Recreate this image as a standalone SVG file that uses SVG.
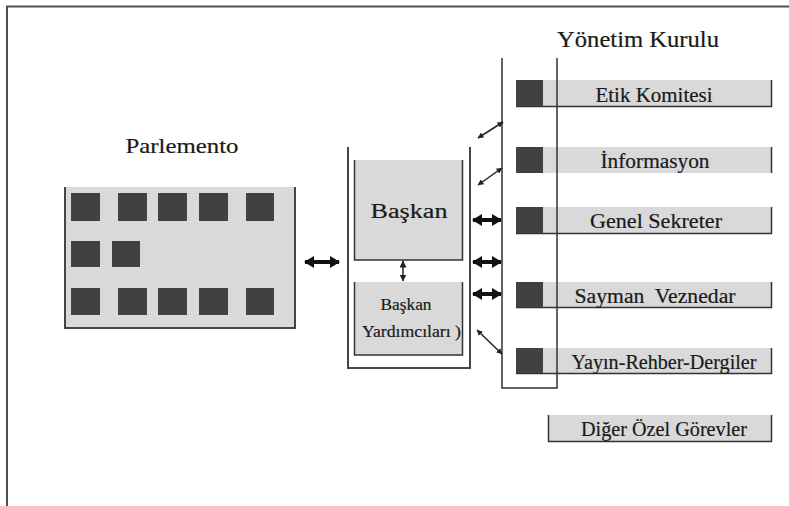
<svg xmlns="http://www.w3.org/2000/svg" width="789" height="506" viewBox="0 0 789 506" font-family="'Liberation Serif', 'Times New Roman', serif">
<defs>
<style>
text{font-family:'Liberation Serif','Times New Roman',serif;fill:#1a1a1a;stroke:#1a1a1a;stroke-width:0.2;}
.panel{fill:#d9d9d9;}
.edge{fill:none;stroke:#444;stroke-width:2;}
.sq{fill:#414141;}
.line{fill:none;stroke:#333;stroke-width:1.5;}
.thick{stroke:#111;stroke-width:4;fill:none;marker-start:url(#hb);marker-end:url(#hb);}
.thin{stroke:#222;stroke-width:1.5;fill:none;marker-start:url(#hs);marker-end:url(#hs);}
.vert{stroke:#222;stroke-width:1.5;fill:none;marker-start:url(#hm);marker-end:url(#hm);}
.bar{font-size:20px;}
</style>
<marker id="hb" markerUnits="userSpaceOnUse" viewBox="0 0 10 12" refX="9" refY="6" markerWidth="10" markerHeight="12" orient="auto-start-reverse"><path d="M0,0 L10,6 L0,12 z" fill="#111"/></marker>
<marker id="hs" markerUnits="userSpaceOnUse" viewBox="0 0 6 6" refX="5.5" refY="3" markerWidth="6" markerHeight="6" orient="auto-start-reverse"><path d="M0,0 L6,3 L0,6 z" fill="#222"/></marker>
<marker id="hm" markerUnits="userSpaceOnUse" viewBox="0 0 7 7" refX="6.5" refY="3.5" markerWidth="7" markerHeight="7" orient="auto-start-reverse"><path d="M0,0 L7,3.5 L0,7 z" fill="#222"/></marker>
</defs>
<rect width="789" height="506" fill="#fff"/>
<path d="M7,506 V6.5 H789" fill="none" stroke="#505050" stroke-width="2"/>

<g id="parlemento">
<text x="182" y="153" font-size="22" text-anchor="middle" textLength="113" lengthAdjust="spacingAndGlyphs">Parlemento</text>
<rect class="panel" x="64" y="187" width="232" height="141"/>
<path class="edge" d="M65,187 V328 H295 V187"/>
<rect class="sq" x="71" y="193" width="29" height="28"/>
<rect class="sq" x="118" y="193" width="29" height="28"/>
<rect class="sq" x="158" y="193" width="29" height="28"/>
<rect class="sq" x="199" y="193" width="29" height="28"/>
<rect class="sq" x="246" y="193" width="28" height="28"/>
<rect class="sq" x="71" y="241" width="29" height="26"/>
<rect class="sq" x="112" y="241" width="28" height="26"/>
<rect class="sq" x="71" y="288" width="29" height="27"/>
<rect class="sq" x="118" y="288" width="29" height="27"/>
<rect class="sq" x="158" y="288" width="29" height="27"/>
<rect class="sq" x="199" y="288" width="29" height="27"/>
<rect class="sq" x="246" y="288" width="28" height="27"/>
</g>

<g id="baskanlik">
<path class="edge" d="M348,147 V368 H470 V147" stroke="#555"/>
</g>
<g id="baskan">
<rect class="panel" x="354" y="160" width="109" height="100"/>
<path class="line" d="M354.5,160 V260 H462.5 V160"/>
<text x="409" y="218" font-size="20" text-anchor="middle" textLength="77" lengthAdjust="spacingAndGlyphs">Başkan</text>
</g>
<g id="baskan-yardimcilari">
<rect class="panel" x="354" y="282" width="109" height="73"/>
<path class="line" d="M354.5,282 V355 H462.5 V282"/>
<text x="406" y="310" font-size="16.5" text-anchor="middle" textLength="51" lengthAdjust="spacingAndGlyphs">Başkan</text>
<text x="362" y="337" font-size="16.5" textLength="99" lengthAdjust="spacingAndGlyphs">Yardımcıları )</text>
</g>

<g id="yonetim-kurulu">
<text x="638" y="47" font-size="23" text-anchor="middle" textLength="162" lengthAdjust="spacingAndGlyphs">Yönetim Kurulu</text>
</g>

<g id="etik-komitesi">
<rect class="panel" x="516" y="80" width="256" height="27"/>
<path class="line" d="M516,106.5 H771.5 V80"/>
<rect class="sq" x="516" y="80" width="27" height="26"/>
<text class="bar" x="654" y="102" text-anchor="middle" textLength="117" lengthAdjust="spacingAndGlyphs">Etik Komitesi</text>
</g>
<g id="informasyon">
<rect class="panel" x="516" y="147" width="256" height="26"/>
<path class="line" d="M771.5,147 V173"/>
<rect class="sq" x="516" y="147" width="27" height="26"/>
<text class="bar" x="655" y="168" text-anchor="middle" textLength="109" lengthAdjust="spacingAndGlyphs">İnformasyon</text>
</g>
<g id="genel-sekreter">
<rect class="panel" x="516" y="207" width="256" height="27"/>
<path class="line" d="M516,233.5 H771.5 V207"/>
<rect class="sq" x="516" y="207" width="27" height="26"/>
<text class="bar" x="656" y="228" text-anchor="middle" textLength="132" lengthAdjust="spacingAndGlyphs">Genel Sekreter</text>
</g>
<g id="sayman-veznedar">
<rect class="panel" x="516" y="282" width="256" height="26"/>
<path class="line" d="M516,307.5 H771.5 V282"/>
<rect class="sq" x="516" y="282" width="27" height="25"/>
<text class="bar" x="655" y="303" text-anchor="middle" textLength="161" lengthAdjust="spacingAndGlyphs" xml:space="preserve">Sayman  Veznedar</text>
</g>
<g id="yayin-rehber-dergiler">
<rect class="panel" x="516" y="348" width="256" height="26"/>
<path class="line" d="M516,373.5 H771.5 V348"/>
<rect class="sq" x="516" y="348" width="27" height="25"/>
<text class="bar" x="664" y="369" text-anchor="middle" textLength="185" lengthAdjust="spacingAndGlyphs">Yayın-Rehber-Dergiler</text>
</g>
<g id="diger-ozel-gorevler">
<rect class="panel" x="548" y="415" width="224" height="27"/>
<path class="line" d="M548.5,415 V441.5 H771.5 V415"/>
<text class="bar" x="664" y="436" text-anchor="middle" textLength="166" lengthAdjust="spacingAndGlyphs">Diğer Özel Görevler</text>
</g>

<g id="connectors">
<path class="line" d="M502,58 V388 H557 V58"/>
<line class="thick" x1="305" y1="262" x2="339" y2="262"/>
<line class="thick" x1="473" y1="220" x2="501" y2="220"/>
<line class="thick" x1="473" y1="262" x2="501" y2="262"/>
<line class="thick" x1="473" y1="294" x2="501" y2="294"/>
<line class="vert" x1="403" y1="261" x2="403" y2="281"/>
<line class="thin" x1="478" y1="138" x2="503" y2="122"/>
<line class="thin" x1="478" y1="185" x2="502" y2="168"/>
<line class="thin" x1="477" y1="330" x2="502" y2="354"/>
</g>
</svg>
